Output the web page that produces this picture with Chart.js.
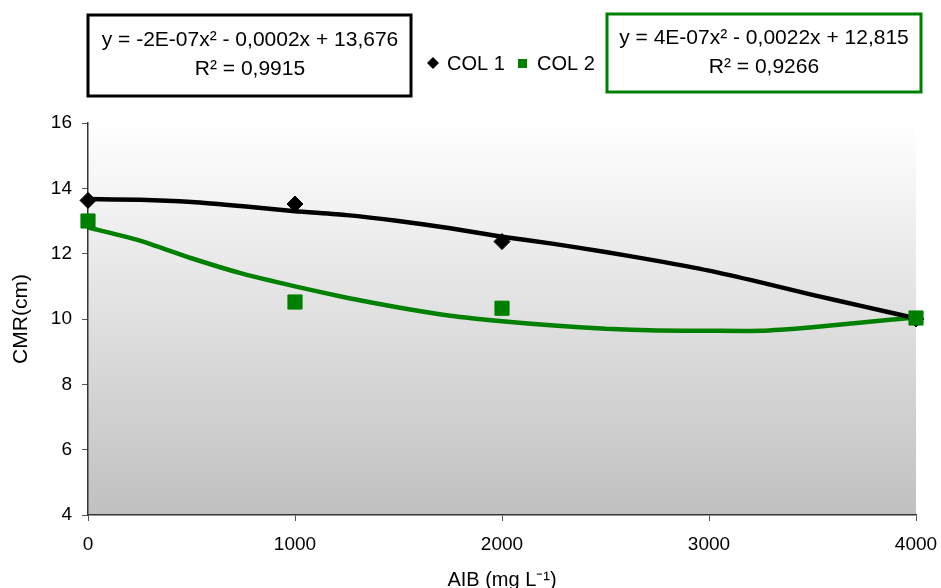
<!DOCTYPE html>
<html>
<head>
<meta charset="utf-8">
<script src="https://cdn.jsdelivr.net/npm/chart.js@4.4.1/dist/chart.umd.min.js"></script>
<style>
  html, body { margin: 0; padding: 0; background: #fff; }
  #wrap { width: 941px; height: 588px; }
</style>
</head>
<body>
<div id="wrap"><canvas id="chart"></canvas></div>
<script>
  // measured values (AIB dose in mg/L)
  const doses = [0, 1000, 2000, 4000];
  const col1 = [13.63, 13.52, 12.37, 10.0];
  const col2 = [13.0, 10.52, 10.33, 10.03];

  // trendlines, every 250 mg/L
  const trendX = [0, 250, 500, 750, 1000, 1250, 1500, 1750, 2000, 2250, 2500, 2750, 3000, 3250, 3500, 3750, 4000];
  const trend1 = [13.67, 13.65, 13.58, 13.45, 13.3, 13.18, 13.0, 12.78, 12.52, 12.3, 12.05, 11.78, 11.48, 11.12, 10.74, 10.38, 10.02];
  const trend2 = [12.8, 12.4, 11.86, 11.38, 11.0, 10.65, 10.35, 10.1, 9.93, 9.8, 9.7, 9.65, 9.64, 9.64, 9.75, 9.9, 10.05];

  const eq1 = ['y = -2E-07x\u00b2 - 0,0002x + 13,676', 'R\u00b2 = 0,9915'];
  const eq2 = ['y = 4E-07x\u00b2 - 0,0022x + 12,815', 'R\u00b2 = 0,9266'];

  const FONT = 'Liberation Sans, Arial, sans-serif';
  const toPts = (xs, ys) => xs.map((x, i) => ({ x: x, y: ys[i] }));

  // gradient behind the plot area
  const plotBg = {
    id: 'plotBg',
    beforeDraw(c) {
      const a = c.chartArea, ctx = c.ctx;
      const g = ctx.createLinearGradient(0, a.top, 0, a.bottom);
      g.addColorStop(0, '#ffffff');
      g.addColorStop(1, '#c0c0c0');
      ctx.save();
      ctx.fillStyle = g;
      ctx.fillRect(a.left, a.top, a.right - a.left, a.bottom - a.top);
      ctx.restore();
    }
  };

  // equation boxes + legend at the top
  const topStuff = {
    id: 'topStuff',
    afterDraw(c) {
      const ctx = c.ctx;
      ctx.save();
      ctx.font = '21px ' + FONT;
      ctx.textAlign = 'center';
      ctx.textBaseline = 'middle';
      ctx.fillStyle = '#000';

      ctx.lineWidth = 3;
      ctx.strokeStyle = '#000';
      ctx.strokeRect(88, 15, 323, 81);
      ctx.fillText(eq1[0], 250, 40);
      ctx.fillText(eq1[1], 250, 69);

      ctx.strokeStyle = '#008000';
      ctx.strokeRect(607, 14, 314, 78);
      ctx.fillText(eq2[0], 764, 38);
      ctx.fillText(eq2[1], 764, 67);

      // legend
      const ds = c.data.datasets;
      ctx.font = '20px ' + FONT;
      ctx.textAlign = 'left';
      ctx.fillStyle = '#000';
      ctx.beginPath();
      ctx.moveTo(433, 57); ctx.lineTo(439, 63); ctx.lineTo(433, 69); ctx.lineTo(427, 63);
      ctx.closePath();
      ctx.fill();
      ctx.fillText(ds[1].label, 447, 64);
      ctx.fillStyle = '#008000';
      ctx.fillRect(518, 59, 9, 9);
      ctx.fillStyle = '#000';
      ctx.fillText(ds[0].label, 537, 64);
      ctx.restore();
    }
  };

  const ctx = document.getElementById('chart').getContext('2d');
  const chart = new Chart(ctx, {
    type: 'scatter',
    data: {
      datasets: [{
        label: 'COL 2',
        data: toPts(doses, col2),
        pointStyle: 'rect',
        pointRadius: 10,
        backgroundColor: '#008000',
        borderColor: '#008000',
        clip: false,
        order: 0
      }, {
        label: 'COL 1',
        data: toPts(doses, col1),
        pointStyle: 'rectRot',
        pointRadius: 8,
        backgroundColor: '#000',
        borderColor: '#000',
        clip: false,
        order: 1
      }, {
        label: 'trend COL 1',
        data: toPts(trendX, trend1),
        showLine: true,
        pointRadius: 0,
        borderColor: '#000',
        borderWidth: 4.5,
        tension: 0.2,
        order: 2
      }, {
        label: 'trend COL 2',
        data: toPts(trendX, trend2),
        showLine: true,
        pointRadius: 0,
        borderColor: '#008000',
        borderWidth: 4.5,
        tension: 0.2,
        order: 3
      }]
    },
    options: {
      responsive: true,
      maintainAspectRatio: false,
      animation: false,
      layout: { padding: { top: 123, right: 25, left: 0, bottom: 0 } },
      plugins: { legend: { display: false }, tooltip: { enabled: false } },
      scales: {
        x: {
          type: 'linear',
          min: 0, max: 4000,
          afterFit: s => { s.height = 73; s.paddingLeft = 0; s.paddingRight = 0; },
          ticks: {
            stepSize: 1000, padding: 12, color: '#000',
            font: { family: FONT, size: 19 },
            callback: v => String(v)
          },
          grid: { drawOnChartArea: false, tickLength: 6, color: '#555' },
          border: { color: '#333', width: 1.5 },
          title: { display: true, text: 'AIB (mg L\u207b\u00b9)', color: '#000', font: { family: FONT, size: 20 }, padding: { top: 0, bottom: -4 } }
        },
        y: {
          min: 4, max: 16,
          afterFit: s => { s.width = 88; },
          ticks: { stepSize: 2, padding: 10, color: '#000', font: { family: FONT, size: 19 } },
          grid: { drawOnChartArea: false, tickLength: 6, color: '#555' },
          border: { color: '#333', width: 1.5 },
          title: { display: true, text: 'CMR(cm)', color: '#000', font: { family: FONT, size: 21 }, padding: { top: 9, bottom: 0 } }
        }
      }
    },
    plugins: [plotBg, topStuff]
  });
</script>
</body>
</html>
